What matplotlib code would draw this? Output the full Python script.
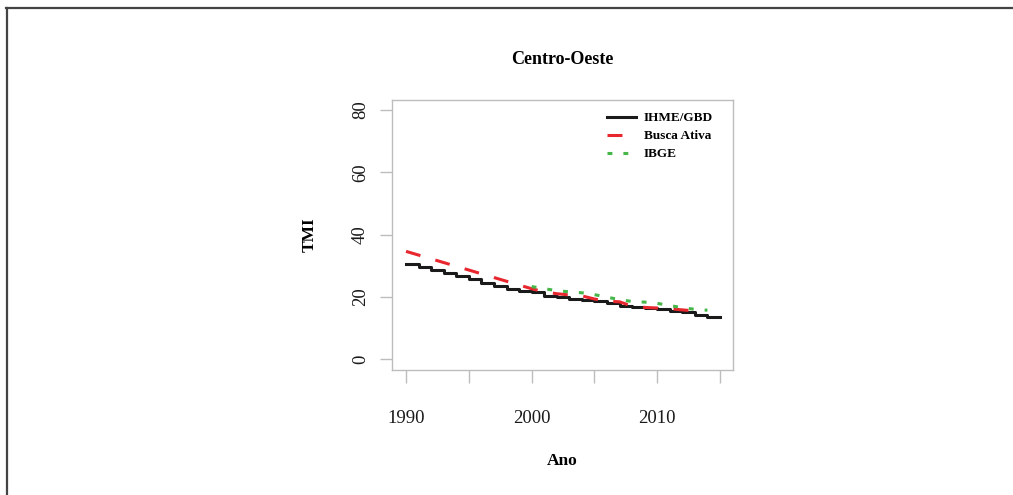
import matplotlib
matplotlib.use("Agg")
import matplotlib.pyplot as plt
from matplotlib.lines import Line2D

# Infant mortality rate (TMI) per 1000 live births, Centro-Oeste region
ihme_years = list(range(1990, 2016))
ihme_vals = [30.4, 29.5, 28.6, 27.5, 26.7, 25.6, 24.5, 23.5, 22.6, 22.0,
             21.4, 20.4, 19.9, 19.3, 19.1, 18.5, 17.9, 17.2, 16.6, 16.5,
             16.0, 15.3, 15.2, 14.2, 13.5, 13.4]

busca_years = [1990] + list(range(2000, 2014))
busca_vals = [34.6, 22.6, 21.6, 21.0, 20.6, 20.3, 19.3, 18.6, 18.4, 17.0,
              16.6, 16.4, 16.2, 15.8, 15.5]

ibge_years = list(range(2000, 2015))
ibge_vals = [23.3, 22.6, 22.0, 21.6, 21.3, 20.7, 19.9, 19.1, 18.5, 18.3,
             17.9, 17.2, 16.5, 16.0, 15.7]

series_labels = ["IHME/GBD", "Busca Ativa", "IBGE"]
x_ticks = [1990, 1995, 2000, 2005, 2010, 2015]
x_ticklabels = ["1990", "", "2000", "", "2010", ""]
y_ticks = [0, 20, 40, 60, 80]

plt.rcParams["font.family"] = ["Liberation Serif", "DejaVu Serif"]

fig = plt.figure(figsize=(10.13, 4.95), dpi=100)
ax = fig.add_axes([0.387, 0.2525, 0.3366, 0.5455])

red = "#e8262d"
green = "#46b649"

ax.plot(ihme_years, ihme_vals, color="#1a1a1a", lw=2.2,
        drawstyle="steps-post", label=series_labels[0], zorder=2)
ax.plot(busca_years, busca_vals, color=red, lw=2.2,
        dashes=(4.9, 5.1), label=series_labels[1], zorder=3)
ax.plot(ibge_years, ibge_vals, color=green, lw=2.2,
        dashes=(1.6, 3.6), label=series_labels[2], zorder=4)

ax.set_xlim(1988.885, 2016.035)
ax.set_ylim(-3.5, 83.2)

ax.set_xticks(x_ticks)
ax.set_xticklabels(x_ticklabels)
ax.set_yticks(y_ticks)
ax.set_yticklabels([str(v) for v in y_ticks], rotation=90, va="center")

for s in ax.spines.values():
    s.set_color("#bdbdbd")
    s.set_linewidth(1.0)
ax.tick_params(axis="both", direction="out", color="#bdbdbd", width=1.0,
               labelsize=13.5, labelcolor="#1a1a1a")
ax.tick_params(axis="x", length=9.5, pad=19)
ax.tick_params(axis="y", length=8.6, pad=8)

ax.set_title("Centro-Oeste", fontsize=13, fontweight="bold", pad=26)
ax.set_xlabel("Ano", fontsize=12.5, fontweight="bold", labelpad=19)
ax.set_ylabel("TMI", fontsize=12.5, fontweight="bold", labelpad=25)

leg = ax.legend(loc="upper right", bbox_to_anchor=(0.941, 0.955),
                frameon=False, prop={"size": 9.5, "weight": "bold"},
                handlelength=2.2, handletextpad=0.6, labelspacing=0.43,
                borderaxespad=0.0, borderpad=0.0)

# Figure frame along the top and left edges
fig.add_artist(Line2D([0.006, 1.0], [0.983, 0.983], transform=fig.transFigure,
                      color="#444444", lw=1.6))
fig.add_artist(Line2D([0.0065, 0.0065], [0.0, 0.983], transform=fig.transFigure,
                      color="#444444", lw=1.6))

fig.savefig("out.png", dpi=100)
